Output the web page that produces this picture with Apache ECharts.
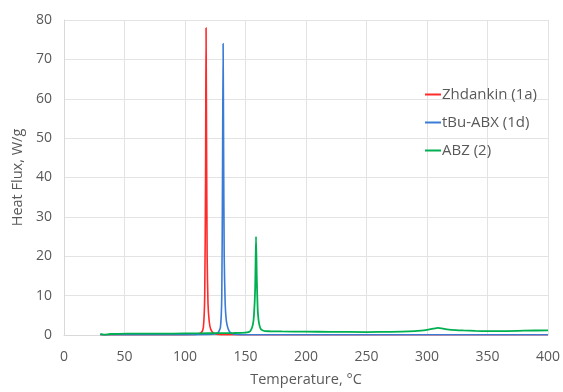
<!DOCTYPE html>
<html><head><meta charset="utf-8">
<script src="https://cdn.jsdelivr.net/npm/echarts@6/dist/echarts.min.js"></script>
<style>html,body{margin:0;padding:0;background:#fff}#c{width:563px;height:392px}</style>
</head><body><div id="c"></div>
<script>
const seriesNames = ['Zhdankin (1a)', 'tBu-ABX (1d)', 'ABZ (2)'];
const xTicks = [0, 50, 100, 150, 200, 250, 300, 350, 400];
const yTicks = [0, 10, 20, 30, 40, 50, 60, 70, 80];

const redT = [30, 60, 100, 110, 113.5, 115.2, 116.3, 117, 117.4, 117.8, 118.3, 119, 120, 121.2, 123, 126, 130, 150, 200, 300, 400];
const redF = [0.05, 0.05, 0.1, 0.2, 0.6, 2, 10, 40, 78, 50, 20, 8, 3.5, 1.5, 0.6, 0.2, 0.1, 0.05, 0.05, 0.05, 0.05];

const blueT = [30, 60, 100, 120, 127, 129.3, 130.4, 131, 131.5, 131.9, 132.4, 133.2, 134.2, 135.7, 137.5, 141, 146, 170, 250, 320, 400];
const blueF = [0.05, 0.05, 0.1, 0.15, 0.5, 2, 10, 40, 74, 48, 20, 8, 3.5, 1.5, 0.6, 0.2, 0.1, 0.05, 0.05, 0.05, 0.05];

const greenT = [30, 33, 38, 45, 60, 80, 100, 120, 140, 150, 154, 156, 157, 158, 158.7, 159.3, 160, 160.7, 161.5, 162.5, 164, 166, 170, 180, 200, 220, 250, 270, 285, 295, 300, 305, 309, 315, 320, 330, 340, 350, 360, 380, 400];
const greenF = [0.3, 0.1, 0.25, 0.3, 0.35, 0.35, 0.4, 0.45, 0.5, 0.6, 1.0, 2.5, 5, 12, 25, 15, 7, 4, 2.5, 1.6, 1.2, 1.0, 0.95, 0.9, 0.85, 0.8, 0.75, 0.8, 0.9, 1.1, 1.3, 1.6, 1.8, 1.5, 1.3, 1.15, 1.05, 1.0, 1.0, 1.1, 1.2];

const zip = (a, b) => a.map((v, i) => [v, b[i]]);
const colors = ['#ff2a2a', '#3a7bd5', '#00b050'];
const font = 'Open Sans';

const chart = echarts.init(document.getElementById('c'), null, {renderer: 'canvas'});
chart.setOption({
  animation: false,
  backgroundColor: '#fff',
  color: colors,
  grid: {left: 64, right: 14, top: 20, bottom: 53},
  legend: {
    orient: 'vertical', left: 420, top: 82, itemGap: 13,
    itemWidth: 16, itemHeight: 2, icon: 'rect',
    textStyle: {fontFamily: font, fontSize: 15, color: '#595959', padding: [0, 0, 0, -4]},
    data: seriesNames
  },
  xAxis: {
    type: 'value', min: xTicks[0], max: xTicks[xTicks.length - 1], interval: 50,
    name: 'Temperature, °C', nameLocation: 'middle', nameGap: 37,
    nameTextStyle: {fontFamily: font, fontSize: 14.5, color: '#595959'},
    axisLine: {show: true, lineStyle: {color: '#d9d9d9'}},
    axisTick: {show: false},
    axisLabel: {fontFamily: font, fontSize: 14, color: '#595959', margin: 15},
    splitLine: {show: true, lineStyle: {color: '#e3e3e3'}}
  },
  yAxis: {
    type: 'value', min: yTicks[0], max: yTicks[yTicks.length - 1], interval: 10,
    name: 'Heat Flux, W/g', nameLocation: 'middle', nameGap: 34,
    nameTextStyle: {fontFamily: font, fontSize: 14.5, color: '#595959'},
    axisLine: {show: true, lineStyle: {color: '#d9d9d9'}},
    axisTick: {show: false},
    axisLabel: {fontFamily: font, fontSize: 14, color: '#595959', margin: 12},
    splitLine: {show: true, lineStyle: {color: '#e3e3e3'}}
  },
  series: [
    {name: seriesNames[0], type: 'line', data: zip(redT, redF), showSymbol: false, smooth: 0.2, lineStyle: {width: 1.6}},
    {name: seriesNames[1], type: 'line', data: zip(blueT, blueF), showSymbol: false, smooth: 0.2, lineStyle: {width: 1.6}},
    {name: seriesNames[2], type: 'line', data: zip(greenT, greenF), showSymbol: false, smooth: 0.2, lineStyle: {width: 1.8}}
  ]
});
</script></body></html>
